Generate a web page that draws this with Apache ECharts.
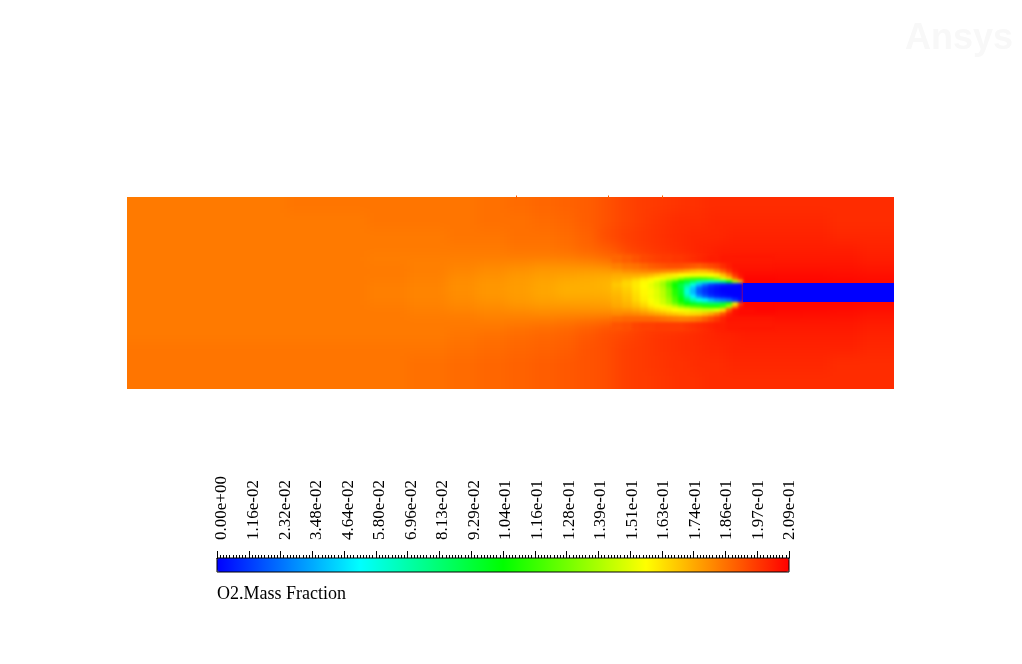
<!DOCTYPE html>
<html>
<head>
<meta charset="utf-8">
<title>O2.Mass Fraction</title>
<script src="https://cdn.jsdelivr.net/npm/echarts@6/dist/echarts.min.js"></script>
<style>
html,body{margin:0;padding:0;background:#fff;}
#main{width:1022px;height:664px;}
/* the contour field looks soft, only the cell layers get blurred, then cut back to the domain */
canvas[data-zr-dom-id="zr_1"]{filter:blur(6px);clip-path:inset(197px 128px 275px 127px);}
canvas[data-zr-dom-id="zr_2"]{filter:blur(1.5px);clip-path:inset(197px 128px 275px 127px);}
</style>
</head>
<body>
<div id="main"></div>
<script>
// colour bar ticks
var tickLabels = ['0.00e+00','1.16e-02','2.32e-02','3.48e-02','4.64e-02','5.80e-02','6.96e-02','8.13e-02','9.29e-02','1.04e-01',
    '1.16e-01','1.28e-01','1.39e-01','1.51e-01','1.63e-01','1.74e-01','1.86e-01','1.97e-01','2.09e-01'];

// cell borders along and across the domain, finer around the jet
var xEdges = [0,80,160,240,280,320,350,380,405,430,450,470,485,495,505,513,521,527,533,539,545,551,557,563,569,575,581,587,593,599,605,611,616,628,648,673,703,733,767];
var yEdges = [0,16,32,46,58,66,72,76,80,83,86,89,92,95,98,101,105,108,111,115,119,125,133,145,159,175,192];

// small marks sticking out of the top wall
var wallMarks = [389.5,481.5,535.5];

// O2 mass fraction x 1000, one row per band from top to bottom
var o2Rows = [
[184,184,185,185,185,185,186,187,188,189,190,192,194,195,196,197,197,197,198,198,198,199,199,199,199,200,200,200,200,200,200,200,200,200,200,200,200,200],
[184,184,184,185,185,185,186,186,187,188,190,192,194,195,196,197,198,198,199,199,200,200,200,200,200,200,201,201,201,201,201,201,201,201,201,201,200,200],
[184,184,184,184,184,185,185,186,186,187,189,193,195,196,197,198,198,199,199,200,200,200,201,201,201,201,201,201,201,202,202,202,202,202,202,202,201,201],
[184,184,184,184,184,184,184,185,185,186,188,190,192,195,196,197,198,198,199,199,200,200,201,201,202,202,202,203,203,203,203,203,203,203,203,203,203,202],
[184,184,184,183,183,183,183,183,183,183,184,186,188,190,192,194,195,196,197,197,198,198,199,200,201,202,203,203,204,204,204,204,204,204,204,204,204,203],
[184,184,184,184,183,182,181,180,178,179,180,181,183,185,186,188,190,191,192,193,193,193,192,191,190,192,194,196,200,203,205,205,205,205,205,205,205,204],
[184,184,184,184,183,182,180,179,178,177,176,176,178,180,181,182,183,183,182,181,180,178,175,172,170,171,175,182,190,198,204,206,206,206,206,206,206,205],
[184,184,184,184,183,181,180,178,177,176,175,174,174,174,174,173,171,168,165,162,160,157,157,155,155,155,157,160,170,183,198,205,207,207,207,207,206,206],
[184,184,184,184,183,180,179,177,176,175,174,173,172,170,167,163,160,157,155,150,145,135,125,120,118,120,125,135,150,165,185,200,208,208,208,208,207,207],
[184,184,184,183,182,180,178,177,175,174,173,172,170,166,162,158,156,150,142,130,118,106,95,85,72,68,65,70,80,100,140,170,208,208,208,208,208,207],
[184,184,184,183,182,180,178,177,175,173,173,172,168,165,161,157,152,146,137,122,106,92,78,60,40,25,15,10,8,5,3,0,0,0,0,0,0,0],
[184,184,184,183,182,180,178,177,175,173,173,172,169,166,161,157,153,148,140,126,108,92,66,42,22,12,6,3,0,0,0,0,0,0,0,0,0,0],
[184,184,184,183,182,180,178,177,175,173,173,173,170,167,162,158,155,150,142,130,112,95,60,38,18,10,5,2,0,0,0,0,0,0,0,0,0,0],
[184,184,184,183,182,180,178,177,175,173,173,173,171,168,163,158,155,150,143,130,112,96,62,40,20,12,6,3,1,0,0,0,0,0,0,0,0,0],
[184,184,184,183,182,180,178,177,175,174,174,174,172,169,164,159,154,150,143,132,116,100,72,50,32,20,12,7,4,2,0,0,0,0,0,0,0,0],
[184,184,184,183,182,181,179,177,176,175,175,175,173,170,165,160,156,152,146,136,120,106,88,70,58,48,38,30,25,20,10,2,0,0,0,0,0,0],
[184,184,184,183,182,181,180,178,177,177,177,176,174,172,168,163,158,154,148,140,128,115,105,98,92,88,85,85,92,115,160,195,208,208,208,208,208,207],
[184,184,184,184,183,181,180,179,178,178,178,177,175,173,170,166,161,158,156,152,145,135,128,122,118,112,110,110,118,138,178,204,208,208,208,208,207,207],
[184,184,184,184,183,182,181,180,179,179,178,178,178,177,175,172,168,165,162,160,157,155,153,150,148,146,146,150,165,190,205,207,207,208,208,207,207,206],
[184,184,184,184,183,183,182,182,181,181,181,181,181,182,181,179,177,175,173,170,168,166,164,165,166,170,175,182,192,202,206,207,207,207,207,207,206,205],
[184,184,184,184,184,184,183,183,183,184,185,186,187,188,188,188,188,187,186,185,184,183,183,184,186,190,194,198,202,205,205,205,205,205,205,205,205,204],
[184,184,184,184,184,184,184,185,186,187,189,191,192,193,195,196,196,197,197,197,197,197,198,199,200,201,202,203,203,204,204,204,204,204,204,204,204,203],
[184,184,184,184,184,185,186,187,188,189,191,193,194,195,196,197,198,198,199,199,199,200,200,200,201,201,201,202,202,202,202,203,203,203,203,203,203,202],
[185,185,185,185,185,186,187,188,189,190,192,193,195,196,197,197,198,198,199,199,199,200,200,200,200,201,201,201,201,202,202,202,202,202,202,202,202,201],
[185,185,185,185,186,187,188,189,190,191,192,193,195,196,197,197,198,198,198,199,199,199,199,200,200,200,200,200,200,201,201,201,201,201,201,201,200,200],
[185,185,185,185,186,187,188,189,190,191,192,193,195,196,197,197,197,198,198,198,199,199,199,199,199,200,200,200,200,200,200,200,200,200,200,200,200,200]
];

var JET_X = 616;   // nozzle mouth
var WALL_X = xEdges[xEdges.length-1];
var WALL_Y = yEdges[yEdges.length-1];

var fieldCells = [], flameCells = [], jetCells = [];
for(var j=0;j<o2Rows.length;j++){
    for(var i=0;i<o2Rows[j].length;i++){
        var x0 = xEdges[i], x1 = xEdges[i+1], y0 = yEdges[j], y1 = yEdges[j+1];
        var v = o2Rows[j][i];
        var isJet = x0>=JET_X && v===0;
        // blurred layers take the colour above the jet, else blue bleeds into the red
        var shown = isJet ? o2Rows[9][i] : v;
        fieldCells.push([x0,y0,x1,y1,shown]);
        if(x0>=485 && x1<=648 && y0>=58 && y1<=133){
            flameCells.push([x0,y0,x1,y1,shown]);
        }
        if(isJet){
            jetCells.push([x0,y0,x1,y1,v]);
        }
    }
}

// outer cells run past the walls so the blur does not fade at the border
function renderCell(params, api){
    var x0 = api.value(0), y0 = api.value(1), x1 = api.value(2), y1 = api.value(3);
    var a = api.coord([x0,y0]);
    var b = api.coord([x1,y1]);
    var left = x0===0 ? a[0]-30 : a[0];
    var top = y0===0 ? a[1]-30 : a[1];
    var right = x1===WALL_X ? b[0]+30 : b[0];
    var bottom = y1===WALL_Y ? b[1]+30 : b[1];
    return {
        type: 'rect',
        shape: {x: left, y: top, width: right-left, height: bottom-top},
        style: {fill: api.visual('color')}
    };
}

function cellSeries(data, zlevel, clip){
    return {
        type: 'custom',
        xAxisIndex: 0,
        yAxisIndex: 0,
        zlevel: zlevel,
        clip: clip,
        encode: {x: [0,2], y: [1,3]},
        data: data,
        renderItem: renderCell
    };
}

var serif = '"Liberation Serif", serif';

var option = {
    backgroundColor: '#fff',
    animation: false,
    title: [{
        text: 'O2.Mass Fraction',
        left: 217,
        top: 585,
        padding: 0,
        textStyle: {fontFamily: serif, fontSize: 18, fontWeight: 'normal', color: '#000'}
    },{
        text: 'Ansys',
        left: 905,
        top: 21,
        padding: 0,
        textStyle: {fontFamily: '"Liberation Sans", sans-serif', fontSize: 36, fontWeight: 'bold', color: '#f8f8f8'}
    }],
    grid: [
        {left: 127, top: 197, width: 767, height: 192},
        {left: 217, top: 558, width: 572, height: 14, show: true, z: 10, backgroundColor: 'transparent', borderColor: '#000', borderWidth: 1},
        // labels sit a little right of their ticks in the picture
        {left: 222, top: 558, width: 568, height: 14}
    ],
    xAxis: [{
        type: 'value', gridIndex: 0, min: 0, max: 767, show: false
    },{
        type: 'value', gridIndex: 1, position: 'top', min: 0, max: 18, interval: 1,
        axisLine: {show: true, onZero: false, lineStyle: {color: '#000', width: 1}},
        axisTick: {show: true, length: 7, lineStyle: {color: '#000', width: 1}},
        minorTick: {show: true, splitNumber: 10, length: 3, lineStyle: {color: '#000', width: 1}},
        splitLine: {show: false},
        axisLabel: {show: false}
    },{
        type: 'value', gridIndex: 2, position: 'top', min: 0, max: 18, interval: 1,
        axisLine: {show: false, onZero: false},
        axisTick: {show: false},
        splitLine: {show: false},
        axisLabel: {
            rotate: -90,
            margin: 18,
            fontFamily: serif,
            fontSize: 17,
            color: '#000',
            hideOverlap: false,
            showMinLabel: true,
            showMaxLabel: true,
            formatter: function(v){ return tickLabels[v]; }
        }
    }],
    yAxis: [{
        type: 'value', gridIndex: 0, min: 0, max: 192, inverse: true, show: false
    },{
        type: 'value', gridIndex: 1, min: 0, max: 1, show: false
    },{
        type: 'value', gridIndex: 2, min: 0, max: 1, show: false
    }],
    visualMap: {
        type: 'continuous',
        seriesIndex: [0,1,2],
        dimension: 4,
        min: 0,
        max: 209,
        left: 217,
        top: 558,
        padding: 0,
        orient: 'horizontal',
        itemWidth: 14,
        itemHeight: 572,
        calculable: false,
        realtime: false,
        hoverLink: false,
        text: null,
        showLabel: false,
        inRange: {color: ['#0000ff','#00ffff','#00ff00','#ffff00','#ff0000']}
    },
    series: [
        cellSeries(fieldCells, 1, false),
        cellSeries(flameCells, 2, false),
        cellSeries(jetCells, 3, true),
        {
            type: 'scatter',
            xAxisIndex: 0,
            yAxisIndex: 0,
            zlevel: 3,
            clip: false,
            symbol: 'rect',
            symbolSize: [1,3],
            itemStyle: {color: '#ff5a00', opacity: 1},
            data: wallMarks.map(function(x){ return [x,0]; })
        }
    ]
};

var chart = echarts.init(document.getElementById('main'));
chart.setOption(option);
</script>
</body>
</html>
